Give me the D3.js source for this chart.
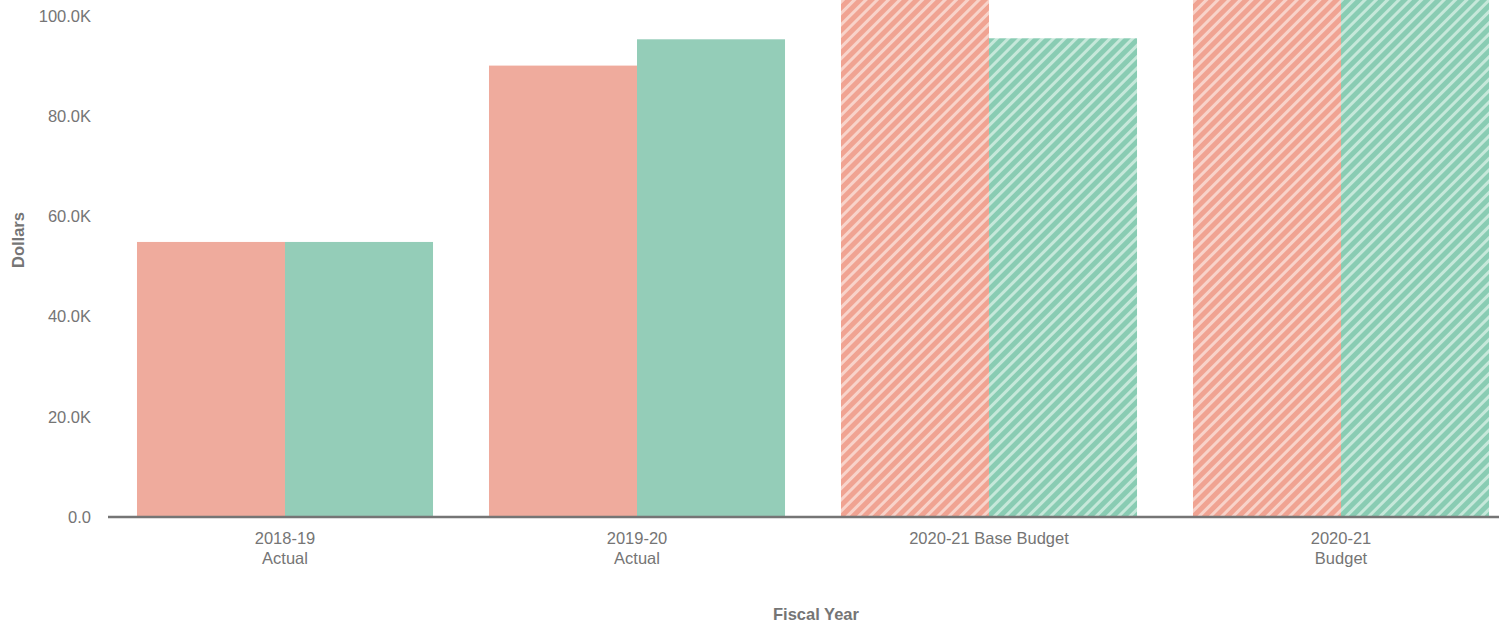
<!DOCTYPE html>
<html>
<head>
<meta charset="utf-8">
<script src="https://cdn.jsdelivr.net/npm/d3@7"></script>
<style>
  html, body { margin: 0; padding: 0; background: #fff; }
  svg { display: block; font-family: "Liberation Sans", Arial, sans-serif; }
</style>
</head>
<body>
<div id="chart"></div>
<script>
// fiscal year categories (label lines)
const categories = ['2018-19 Actual', '2019-20 Actual', '2020-21 Base Budget', '2020-21 Budget'];
const categoryLines = [['2018-19', 'Actual'], ['2019-20', 'Actual'], ['2020-21 Base Budget'], ['2020-21', 'Budget']];
const hatched = [false, false, true, true];

// two series (dollars)
const seriesA = [54900, 90100, 112000, 115000];
const seriesB = [54900, 95350, 95550, 118000];

const yTicks = [0, 20000, 40000, 60000, 80000, 100000];

const W = 1499, H = 626;
const colorA = '#efab9d', colorB = '#94cdb8';

const svg = d3.select('#chart').append('svg')
  .attr('width', W)
  .attr('height', H);

// hatch patterns
const defs = svg.append('defs');
function addHatch(id, base, light) {
  const p = defs.append('pattern')
    .attr('id', id)
    .attr('patternUnits', 'userSpaceOnUse')
    .attr('width', 8)
    .attr('height', 8)
    .attr('patternTransform', 'rotate(45)');
  p.append('rect').attr('width', 8).attr('height', 8).attr('fill', base);
  p.append('rect').attr('x', 0).attr('width', 3).attr('height', 8).attr('fill', light);
}
addHatch('hatchA', '#f0a392', '#f8d3ca');
addHatch('hatchB', '#89ccb3', '#c6e8da');

const x = d3.scaleBand()
  .domain(categories)
  .range([109, 1517])
  .paddingInner(0.159)
  .paddingOuter(0.0795);

const xs = d3.scaleBand()
  .domain(['a', 'b'])
  .range([0, x.bandwidth()]);

const y = d3.scaleLinear()
  .domain([0, 100000])
  .range([517, 16]);

const rows = categories.map(function(c, i) {
  return {cat: c, i: i, a: seriesA[i], b: seriesB[i]};
});

// bars
const groups = svg.append('g').selectAll('g')
  .data(rows)
  .enter()
  .append('g')
  .attr('transform', function(d) { return 'translate(' + x(d.cat) + ',0)'; });

groups.append('rect')
  .attr('x', xs('a'))
  .attr('y', function(d) { return y(d.a); })
  .attr('width', xs.bandwidth())
  .attr('height', function(d) { return y(0) - y(d.a); })
  .attr('fill', function(d) { return hatched[d.i] ? 'url(#hatchA)' : colorA; });

groups.append('rect')
  .attr('x', xs('b'))
  .attr('y', function(d) { return y(d.b); })
  .attr('width', xs.bandwidth())
  .attr('height', function(d) { return y(0) - y(d.b); })
  .attr('fill', function(d) { return hatched[d.i] ? 'url(#hatchB)' : colorB; });

// y axis tick labels
const yAxis = d3.axisLeft(y)
  .tickValues(yTicks)
  .tickSize(0)
  .tickPadding(0)
  .tickFormat(function(d) { return d === 0 ? '0.0' : d3.format('.1f')(d / 1000) + 'K'; });

const yg = svg.append('g')
  .attr('transform', 'translate(91,0)')
  .call(yAxis);
yg.select('.domain').remove();
yg.selectAll('text')
  .attr('fill', '#757575')
  .attr('font-size', 16.5)
  .attr('font-family', '"Liberation Sans", Arial, sans-serif');

// x axis line
svg.append('line')
  .attr('x1', 108)
  .attr('x2', W)
  .attr('y1', y(0))
  .attr('y2', y(0))
  .attr('stroke', '#757575')
  .attr('stroke-width', 2.5);

// x category labels
const xl = svg.append('g').selectAll('text')
  .data(rows)
  .enter()
  .append('text')
  .attr('x', function(d) { return x(d.cat) + x.bandwidth() / 2; })
  .attr('y', 544)
  .attr('text-anchor', 'middle')
  .attr('font-size', 16.5)
  .attr('fill', '#757575');

xl.selectAll('tspan')
  .data(function(d) { return categoryLines[d.i]; })
  .enter()
  .append('tspan')
  .attr('x', function() { return d3.select(this.parentNode).attr('x'); })
  .attr('dy', function(d, i) { return i === 0 ? 0 : 20; })
  .text(function(d) { return d; });

// axis titles
svg.append('text')
  .attr('transform', 'translate(24,240) rotate(-90)')
  .attr('text-anchor', 'middle')
  .attr('font-size', 16.5)
  .attr('font-weight', 'bold')
  .attr('fill', '#757575')
  .text('Dollars');

svg.append('text')
  .attr('x', 816)
  .attr('y', 620)
  .attr('text-anchor', 'middle')
  .attr('font-size', 16.5)
  .attr('font-weight', 'bold')
  .attr('fill', '#757575')
  .text('Fiscal Year');
</script>
</body>
</html>
